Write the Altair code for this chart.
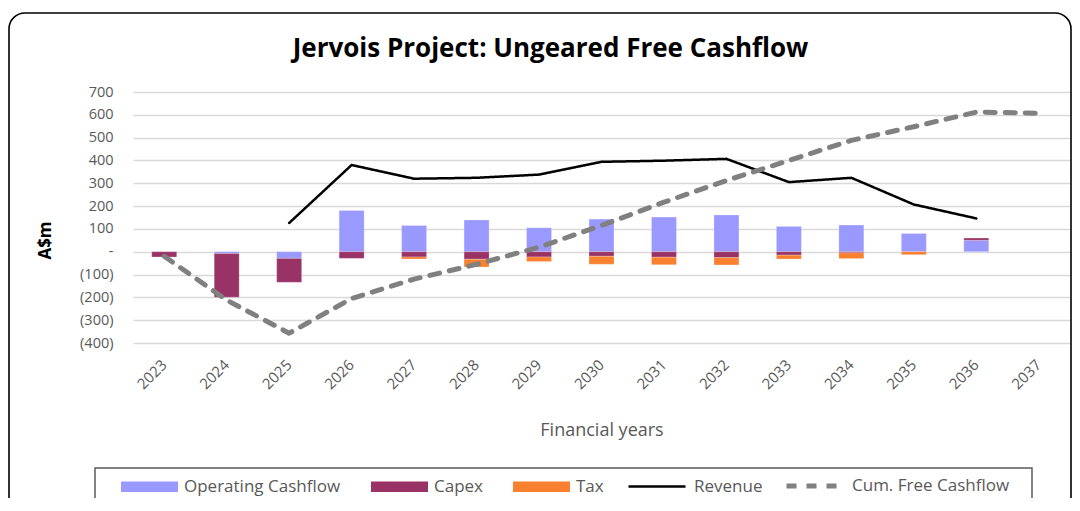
import altair as alt
import pandas as pd

years = list(range(2023, 2038))
operating = [0, -8, -29, 181, 115, 139, 105, 143, 152, 161, 111, 117, 80, 50, 0]
capex = [-23, -191, -105, -29, -23, -33, -23, -20, -24, -26, -15, -5, 0, 10, 0]
tax = [0, 0, 0, 0, -9, -34, -20, -35, -33, -32, -17, -25, -13, 0, 0]
revenue_years = list(range(2025, 2037))
revenue = [126, 380, 320, 324, 338, 394, 399, 407, 305, 324, 207, 146]
cum_fcf = [-20, -212, -357, -205, -120, -55, 20, 115, 217, 312, 400, 488, 548, 612, 607]
y_ticks = [-400, -300, -200, -100, 0, 100, 200, 300, 400, 500, 600, 700]

bar_names = ["Operating Cashflow", "Capex", "Tax"]
bar_colors = ["#9999FF", "#993366", "#F8802F"]
line_names = ["Revenue", "Cum. Free Cashflow"]

rows = []
for i, y in enumerate(years):
    for k, (name, vals) in enumerate(zip(bar_names, [operating, capex, tax])):
        if vals[i] != 0:
            rows.append({"year": y, "component": name, "value": vals[i], "ord": k})
bars_df = pd.DataFrame(rows)

line_rows = [{"year": y, "series": "Revenue", "value": v} for y, v in zip(revenue_years, revenue)]
line_rows += [{"year": y, "series": "Cum. Free Cashflow", "value": v} for y, v in zip(years, cum_fcf)]
lines_df = pd.DataFrame(line_rows)

FONT = "Open Sans"
GRAY = "#595959"

xscale = alt.Scale(domain=years, paddingInner=0.6, paddingOuter=0.3)
yscale = alt.Scale(domain=[-400, 700], nice=False, zero=False)

label_expr = ("datum.value < 0 ? '(' + format(-datum.value, ',') + ')' : "
              "(datum.value == 0 ? '-' : format(datum.value, ','))")

x_axis = alt.Axis(title="Financial years", labelAngle=-45, labelAlign="right",
                  labelBaseline="middle", labelPadding=19, ticks=False,
                  domain=False, grid=False, labelFont=FONT, labelFontSize=15,
                  labelColor=GRAY, labelOverlap=False, titleFont=FONT, titleFontSize=18,
                  titleFontWeight="normal", titleColor=GRAY,
                  titleY=87, titleBaseline="middle")
y_axis = alt.Axis(title="A$m", values=y_ticks, labelExpr=label_expr,
                  ticks=False, domain=False, grid=True, labelOverlap=False,
                  gridColor="#D9D9D9", gridWidth=1.5, labelPadding=20,
                  labelFont=FONT, labelFontSize=14.5, labelColor=GRAY,
                  titleFont=FONT, titleFontSize=17, titleFontWeight="bold",
                  titleColor="black", titleX=-88, titleY=148, titleAngle=-90,
                  titleAlign="center", titleBaseline="middle")

bars = alt.Chart(bars_df).mark_bar(stroke="white", strokeWidth=0.4, strokeOpacity=0.6).encode(
    x=alt.X("year:O", scale=xscale, axis=x_axis),
    y=alt.Y("value:Q", scale=yscale, stack="zero", axis=y_axis),
    color=alt.Color("component:N", scale=alt.Scale(domain=bar_names, range=bar_colors),
                    legend=alt.Legend(title=None, orient="none", direction="horizontal",
                                      legendX=-12, legendY=366, columns=3,
                                      symbolType="M-1,-0.18H1V0.18H-1Z", symbolSize=3249,
                                      symbolStrokeWidth=0, labelFont=FONT, labelFontSize=17,
                                      labelColor=GRAY, labelOffset=6, columnPadding=30)),
    order=alt.Order("ord:Q", sort="ascending"),
)

def line_legend():
    return alt.Legend(title=None, orient="none", direction="horizontal",
                      legendX=493, legendY=363, columns=2,
                      symbolType="stroke", symbolSize=3249,
                      labelFont=FONT, labelFontSize=17, labelColor=GRAY,
                      labelOffset=6, columnPadding=13)

lines = alt.Chart(lines_df).mark_line(strokeCap="round", strokeJoin="round").encode(
    x=alt.X("year:O", scale=xscale, axis=x_axis),
    y=alt.Y("value:Q", scale=yscale, axis=y_axis),
    stroke=alt.Stroke("series:N", scale=alt.Scale(domain=line_names, range=["black", "#808080"]),
                      legend=line_legend()),
    strokeDash=alt.StrokeDash("series:N", scale=alt.Scale(domain=line_names, range=[[1, 0], [10, 10]]),
                              legend=line_legend()),
    strokeWidth=alt.StrokeWidth("series:N", scale=alt.Scale(domain=line_names, range=[2.5, 5]),
                                legend=line_legend()),
    detail="series:N",
)

deco_df = pd.DataFrame({"k": [0]})
legend_box = alt.Chart(deco_df).mark_rect(filled=False, stroke="#595959",
                                          strokeWidth=1.5).encode(
    x=alt.value(-38), x2=alt.value(899), y=alt.value(376), y2=alt.value(411))
frame = alt.Chart(deco_df).mark_rect(filled=False, stroke="black",
                                     strokeWidth=1.6, cornerRadius=16).encode(
    x=alt.value(-124), x2=alt.value(938), y=alt.value(-79), y2=alt.value(600))

chart = alt.layer(bars, lines, legend_box, frame).properties(
    width=937, height=251,
    title=alt.TitleParams("Jervois Project: Ungeared Free Cashflow", font=FONT, fontSize=26,
                          fontWeight="bold", color="black", anchor="middle", dx=-51, offset=-50),
    autosize=alt.AutoSizeParams(type="none"),
    padding={"left": 125, "top": 84, "right": 2, "bottom": 155},
).configure(background="white").configure_view(stroke=None)

chart.save("out.html", embed_options={"renderer": "svg", "actions": False})
